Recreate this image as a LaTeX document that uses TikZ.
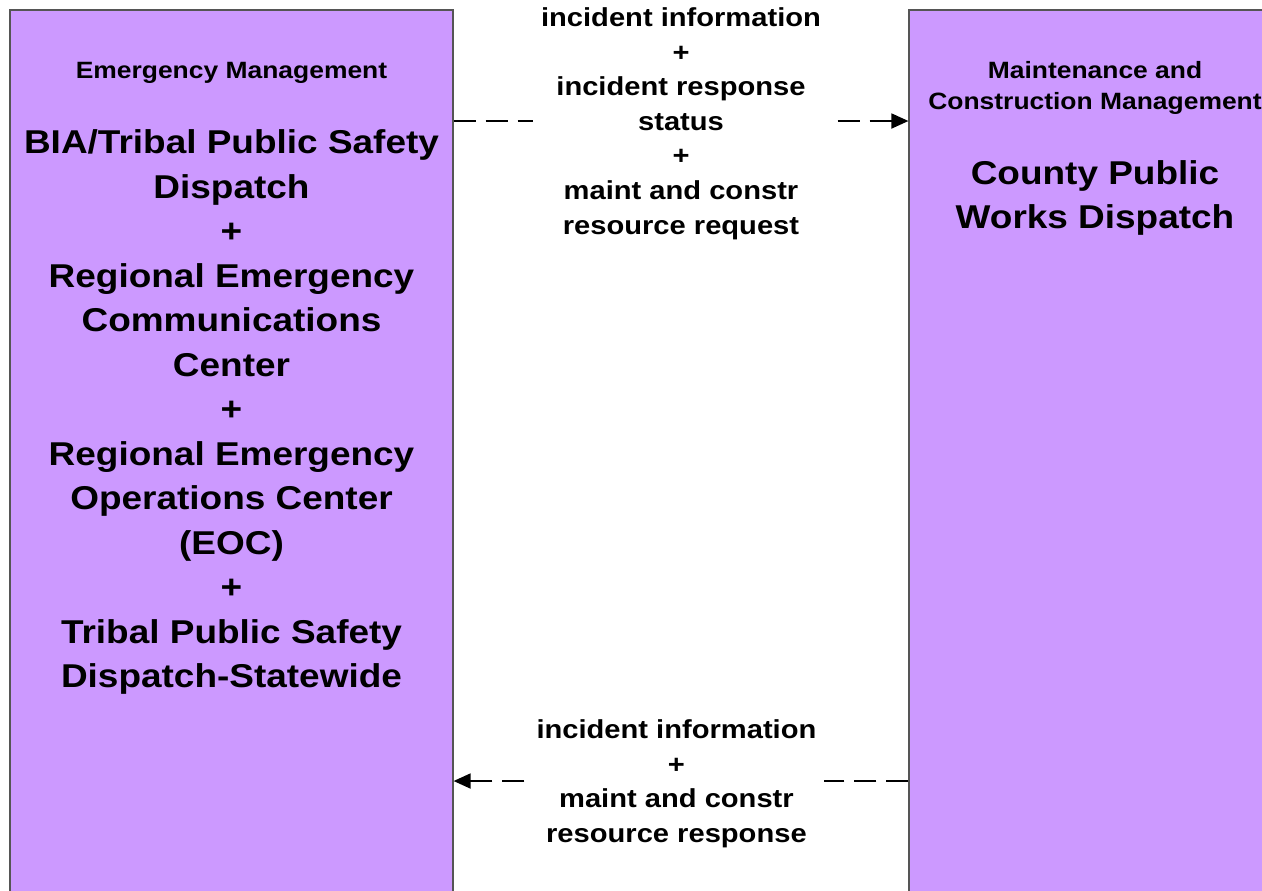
\documentclass[tikz,border=0pt]{standalone}
\usepackage{fontspec}
\setmainfont{Liberation Sans}[FakeStretch=1.12]
\usepackage{tikz}
\usetikzlibrary{arrows.meta, calc}
\definecolor{agentfill}{HTML}{CC99FF}
\definecolor{agentline}{HTML}{555555}

\begin{document}
\begin{tikzpicture}[
          x=0.5pt, y=-0.5pt,
          agent/.style={rectangle, draw=agentline, fill=agentfill,
                        line width=0.6pt, minimum height=450pt,
                        inner sep=0pt},
          small/.style={align=center, inner sep=0pt,
                        font=\bfseries\fontsize{11.8}{15.5}\selectfont},
          big/.style={align=center, inner sep=0pt,
                      font=\bfseries\fontsize{16.5}{22.25}\selectfont},
          flow/.style={dash pattern=on 11pt off 5pt, line width=0.9pt,
                       -{Triangle[length=8.5pt, width=7.5pt]}},
          lbl/.style={align=center, fill=white, inner xsep=4pt,
                      inner ysep=6pt, yshift=-1.3pt,
                      font=\bfseries\fontsize{13}{17.3}\selectfont}
        ]
          \useasboundingbox (0,0) rectangle (1262,890);
          \clip (0,0) rectangle (1262,890);
          \node[agent, minimum width=221.5pt] (em) at (231.5,460) {};
          \node[agent, minimum width=186pt]   (pw) at (1095,460) {};
          \node[small] (emcat) at (231.5,73)  {Emergency Management};
          \node[big]   (emname) at (231.5,412) {BIA/Tribal Public Safety\\Dispatch\\+\\Regional Emergency\\Communications\\Center\\+\\Regional Emergency\\Operations Center\\(EOC)\\+\\Tribal Public Safety\\Dispatch-Statewide};
          \node[small] (pwcat) at (1095,88) {Maintenance and\\Construction Management};
          \node[big]   (pwname) at (1095,198) {County Public\\Works Dispatch};
          \coordinate (req) at (0,121);
          \coordinate (resp) at (0,781);
          \draw[flow] (em.east |- req) -- node[lbl, pos=0.5] (reqlbl) {incident information\\+\\incident response\\status\\+\\maint and constr\\resource request} (pw.west |- req);
          \draw[flow] (pw.west |- resp) -- node[lbl, pos=0.51] (resplbl) {incident information\\+\\maint and constr\\resource response} (em.east |- resp);
        \end{tikzpicture}
\end{document}
